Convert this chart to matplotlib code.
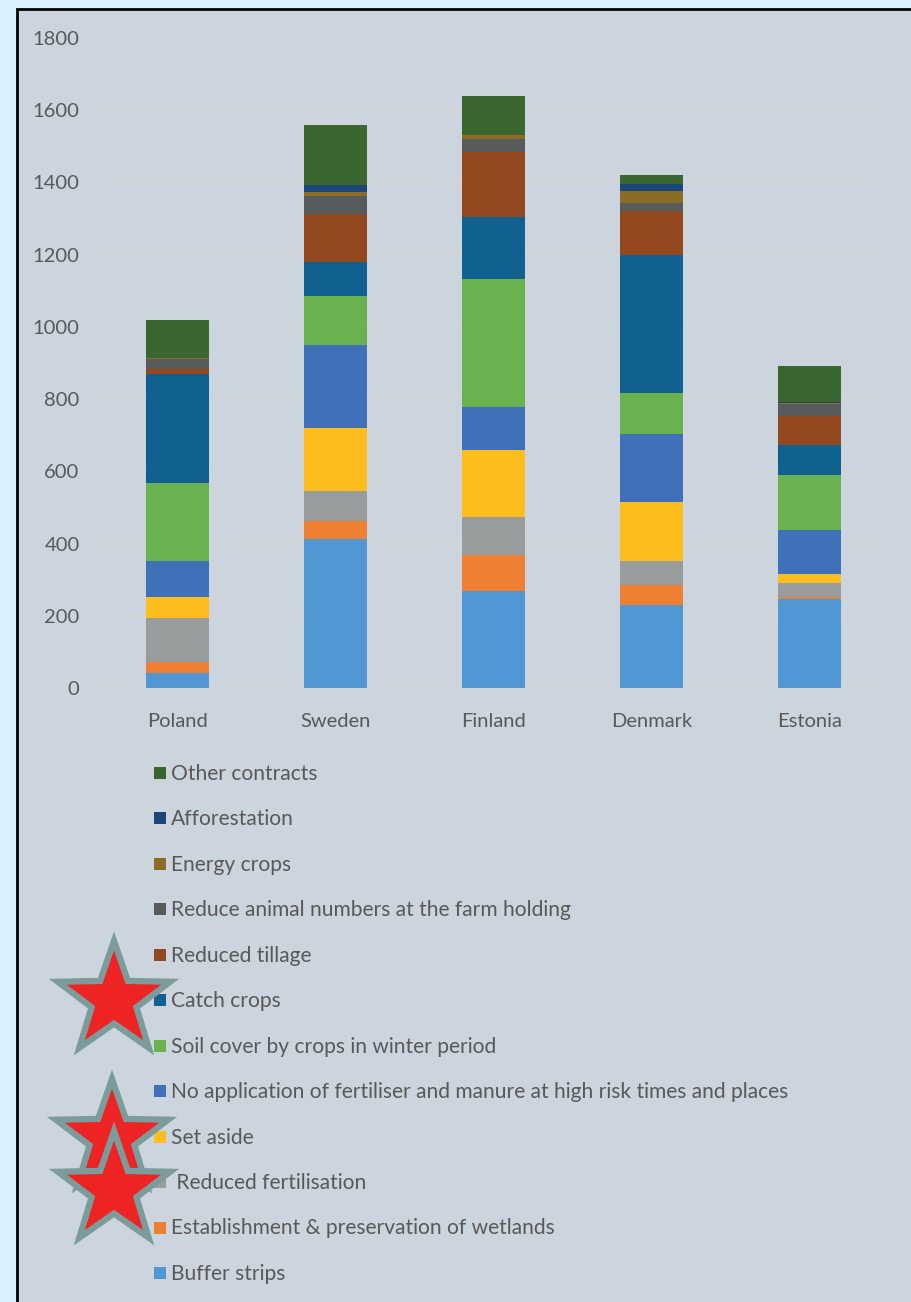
import numpy as np
import matplotlib
matplotlib.use("Agg")
import matplotlib.pyplot as plt
from matplotlib.patches import Rectangle, Polygon

plt.rcParams['font.family'] = ['Lato', 'DejaVu Sans']

countries = ["Poland", "Sweden", "Finland", "Denmark", "Estonia"]

# series, bottom to top of the stack
buffer_strips = [41, 412, 269, 231, 247]
wetlands = [32, 50, 100, 54, 4]
reduced_fert = [122, 84, 105, 67, 40]
set_aside = [56, 175, 185, 164, 25]
no_application = [101, 228, 118, 187, 122]
soil_cover = [215, 136, 355, 113, 153]
catch_crops = [302, 96, 171, 382, 82]
reduced_tillage = [15, 132, 182, 122, 81]
reduce_animals = [27, 49, 35, 22, 33]
energy_crops = [4, 11, 11, 35, 3]
afforestation = [0, 19, 0, 19, 3]
other_contracts = [103, 168, 108, 24, 99]

labels = ["Buffer strips", "Establishment & preservation of wetlands",
          " Reduced fertilisation", "Set aside",
          "No application of fertiliser and manure at high risk times and places",
          "Soil cover by crops in winter period", "Catch crops", "Reduced tillage",
          "Reduce animal numbers at the farm holding", "Energy crops",
          "Afforestation", "Other contracts"]
series = [buffer_strips, wetlands, reduced_fert, set_aside, no_application,
          soil_cover, catch_crops, reduced_tillage, reduce_animals,
          energy_crops, afforestation, other_contracts]
colors = ['#5097d3', '#ef8033', '#989c9d', '#fdbd1d', '#3f70b8', '#6ab150',
          '#106090', '#944820', '#585b5c', '#8c6b25', '#1a4778', '#3a6630']

W, H = 911, 1302
fig = plt.figure(figsize=(W / 100, H / 100), dpi=100)
fig.patch.set_facecolor('#daf0fc')

# background panel with black frame (pixel coords)
bg = fig.add_axes([0, 0, 1, 1], zorder=0)
bg.set_xlim(0, W)
bg.set_ylim(H, 0)
bg.axis('off')
bg.add_patch(Rectangle((17, 9), W + 20, H + 20, facecolor='#ccd4de',
                       edgecolor='black', linewidth=2))

ax = fig.add_axes([99 / W, (H - 688) / H, (888 - 99) / W, 650 / H], zorder=1)
ax.set_facecolor('none')
x = np.arange(len(countries))
bottom = np.zeros(len(countries))
for vals, lab, col in zip(series, labels, colors):
    ax.bar(x, vals, 0.4, bottom=bottom, color=col, label=lab, zorder=2)
    bottom += np.array(vals)

ax.set_xlim(-0.5, 4.5)
ax.set_ylim(0, 1800)
ax.set_yticks(range(0, 1801, 200))
ax.set_xticks(x)
ax.set_xticklabels(countries)
ax.grid(axis='y', color='#d2d6d4', linewidth=1.5, zorder=0)
for s in ax.spines.values():
    s.set_visible(False)
ax.tick_params(length=0, colors='#595959', labelsize=14.5)
ax.tick_params(axis='y', pad=14)
ax.tick_params(axis='x', pad=18)

# legend + stars overlay (pixel coords)
fg = fig.add_axes([0, 0, 1, 1], zorder=3)
fg.set_xlim(0, W)
fg.set_ylim(H, 0)
fg.axis('off')
for i, (lab, col) in enumerate(zip(labels[::-1], colors[::-1])):
    yc = 773 + i * 45.45
    fg.add_patch(Rectangle((154, yc - 6), 12, 12, facecolor=col, edgecolor='none'))
    fg.text(171, yc + 1, lab, va='center', ha='left', fontsize=15.1, color='#595959')

def star(cx, cy, r):
    ang = np.pi / 2 + np.arange(10) * np.pi / 5
    rad = np.where(np.arange(10) % 2 == 0, r, r * 0.4)
    return np.column_stack([cx + rad * np.cos(ang), cy - rad * np.sin(ang)])

for cx, cy in [(114, 1000), (112, 1138), (114, 1190)]:
    fg.add_patch(Polygon(star(cx, cy, 59), closed=True, facecolor='#ee2424',
                         edgecolor='#7c9c9c', linewidth=4.5, joinstyle='miter'))

fig.savefig("out.png", dpi=100)
